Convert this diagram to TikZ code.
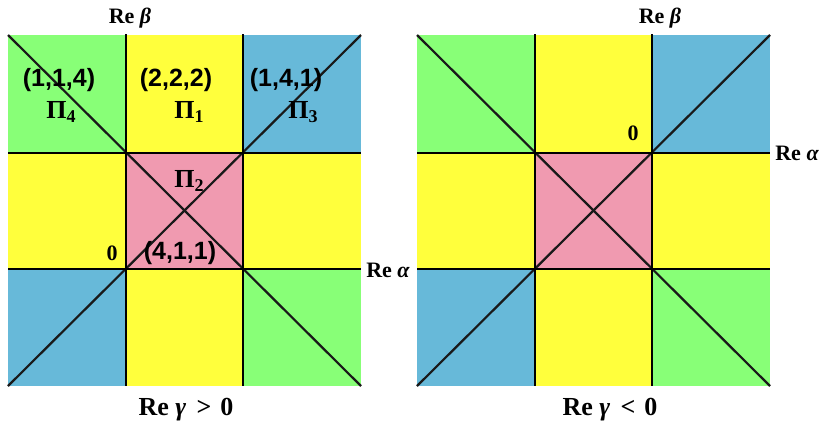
\documentclass[tikz,border=0pt]{standalone}
\usepackage{fontspec}
\setmainfont{Liberation Serif}
\setsansfont{Liberation Sans}
\definecolor{cgreen}{RGB}{136,255,119}
\definecolor{cyellow}{RGB}{255,255,60}
\definecolor{cblue}{RGB}{103,185,217}
\definecolor{cpink}{RGB}{240,154,176}
\newcommand{\axlab}[1]{\fontsize{22bp}{22bp}\selectfont\bfseries Re\hspace{0.25em}\itshape #1}
\newcommand{\trip}[1]{\fontsize{25bp}{25bp}\selectfont\sffamily\bfseries #1}
\newcommand{\pilab}[1]{\fontsize{26bp}{26bp}\selectfont\bfseries Π\raisebox{-0.35ex}{\fontsize{18bp}{18bp}\selectfont #1}}
\newcommand{\zlab}{\fontsize{22bp}{22bp}\selectfont\bfseries 0}
\newcommand{\glab}[1]{\fontsize{26bp}{26bp}\selectfont\bfseries Re\hspace{0.25em}{\itshape γ}\hspace{0.4em}#1\hspace{0.35em}0}
\begin{document}
\begin{tikzpicture}[x=1bp,y=-1bp,
  gridline/.style={line width=2.6bp,black},
  diagline/.style={line width=2.2bp,black!90},
  lab/.style={inner sep=0pt,anchor=center}]
\useasboundingbox (0,0) rectangle (821,423);
\foreach \dx/\p in {0/L,409/R}{
  \begin{scope}[shift={(\dx,0)}]
    \coordinate (\p00) at (8,35);
    \coordinate (\p33) at (361,386);
    % cells
    \fill[cgreen]  (8,35)    rectangle (126,153);
    \fill[cyellow] (126,35)  rectangle (243,153);
    \fill[cblue]   (243,35)  rectangle (361,153);
    \fill[cyellow] (8,153)   rectangle (126,269);
    \fill[cpink]   (126,153) rectangle (243,269);
    \fill[cyellow] (243,153) rectangle (361,269);
    \fill[cblue]   (8,269)   rectangle (126,386);
    \fill[cyellow] (126,269) rectangle (243,386);
    \fill[cgreen]  (243,269) rectangle (361,386);
    % diagonals
    \draw[diagline] (8,35) -- (361,386);
    \draw[diagline] (361,35) -- (8,386);
    % grid lines
    \draw[gridline] (126,34) -- (126,386);
    \draw[gridline] (243,34) -- (243,386);
    \draw[gridline] (8,153) -- (361,153);
    \draw[gridline] (8,269) -- (361,269);
  \end{scope}
}
% left panel labels
\node[lab] (lb) at (130,18) {\axlab{β}};
\node[lab] (la) at (388,270) {\axlab{α}};
\node[lab] (t114) at (59,80) {\trip{(1,1,4)}};
\node[lab] (t222) at (176,80) {\trip{(2,2,2)}};
\node[lab] (t141) at (286,80) {\trip{(1,4,1)}};
\node[lab] (p4) at (61,112) {\pilab{4}};
\node[lab] (p1) at (189,112) {\pilab{1}};
\node[lab] (p3) at (303,112) {\pilab{3}};
\node[lab] (p2) at (189,181) {\pilab{2}};
\node[lab] (z1) at (112,253) {\zlab};
\node[lab] (t411) at (180,253) {\trip{(4,1,1)}};
\node[lab] (g1) at (186,410) {\glab{>}};
% right panel labels
\node[lab] (rb) at (660,18) {\axlab{β}};
\node[lab] (ra) at (797,153) {\axlab{α}};
\node[lab] (z2) at (633,133) {\zlab};
\node[lab] (g2) at (610,410) {\glab{<}};
\end{tikzpicture}
\end{document}
